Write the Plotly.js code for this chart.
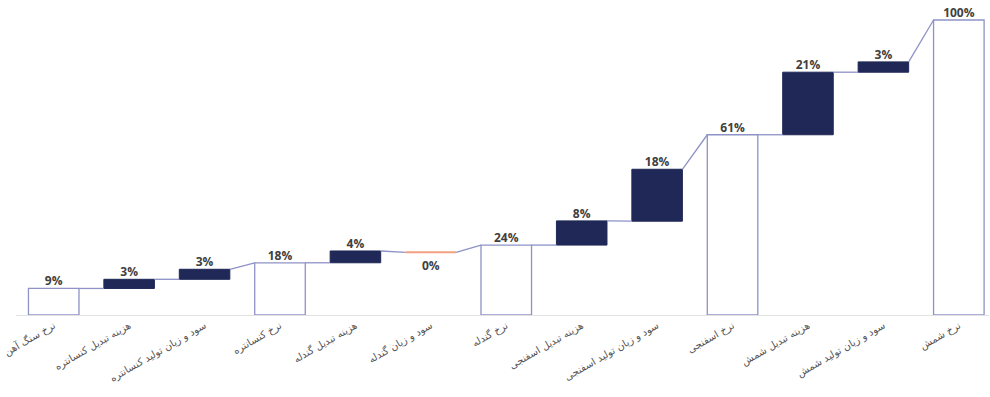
<!DOCTYPE html>
<html>
<head>
<meta charset="utf-8">
<script src="https://cdn.plot.ly/plotly-3.0.1.min.js"></script>
<style>html,body{margin:0;padding:0;background:#fff;}#chart{width:990px;height:397px;}</style>
</head>
<body>
<div id="chart"></div>
<script>
// Categories (Persian labels)
var categories = [
  "نرخ سنگ آهن",
  "هزینه تبدیل کنسانتره",
  "سود و زیان تولید کنسانتره",
  "نرخ کنسانتره",
  "هزینه تبدیل گندله",
  "سود و زیان گندله",
  "نرخ گندله",
  "هزینه تبدیل اسفنجی",
  "سود و زیان تولید اسفنجی",
  "نرخ اسفنجی",
  "هزینه تبدیل شمش",
  "سود و زیان تولید شمش",
  "نرخ شمش"
];
// Bar type: total (from zero) or relative (floating step)
var measures = ["total","relative","relative","total","relative","relative","total","relative","relative","total","relative","relative","total"];
// Displayed percentage labels
var pctLabels = [9, 3, 3, 18, 4, 0, 24, 8, 18, 61, 21, 3, 100];
// Bar bottom and top levels (% of final price)
var barBottoms = [0, 9.0, 12.1, 0, 17.7, 21.25, 0, 23.7, 31.8, 0, 61.1, 82.3, 0];
var barTops    = [9.0, 12.1, 15.5, 17.7, 21.7, 21.25, 23.7, 31.9, 49.4, 61.1, 82.3, 85.8, 100];

var W = 0.67;
var navy = "#1f2856";
var outline = "#8e92c6";
var orange = "#f4a080";
var labelFont = {family: "Open Sans", size: 12, color: "#404040", weight: "bold"};

var idx = categories.map(function(_, i){ return i; });

var totalX = [], totalBase = [], totalVal = [];
var relX = [], relBase = [], relVal = [];
var zeroX = [], zeroY = [];
var txtX = [], txtY = [], txtS = [];
var annotations = [];
idx.forEach(function(i){
  var h = barTops[i] - barBottoms[i];
  if (measures[i] === "total") { totalX.push(i); totalBase.push(barBottoms[i]); totalVal.push(h); }
  else if (h > 0) { relX.push(i); relBase.push(barBottoms[i]); relVal.push(h); }
  else { zeroX.push(i - W/2, i + W/2, null); zeroY.push(barTops[i], barTops[i], null); }
  if (pctLabels[i] === 0) {
    annotations.push({x: i, y: barTops[i], xref: "x", yref: "y", text: pctLabels[i] + "%",
      showarrow: false, yanchor: "top", yshift: -3, font: labelFont});
  } else {
    txtX.push(i); txtY.push(barTops[i]); txtS.push(pctLabels[i] + "%");
  }
});

// connectors: end level of bar i -> start level of bar i+1
var connX = [], connY = [];
for (var i = 0; i < categories.length - 1; i++) {
  var startNext = measures[i+1] === "total" ? barTops[i+1] : barBottoms[i+1];
  connX.push(i + W/2, i + 1 - W/2, null);
  connY.push(barTops[i], startNext, null);
}

var traces = [
  { type: "scatter", mode: "lines", x: connX, y: connY, line: {color: outline, width: 1.3}, hoverinfo: "skip", showlegend: false },
  { type: "bar", x: totalX, y: totalVal, base: totalBase, width: W,
    marker: {color: "#ffffff", line: {color: outline, width: 1.3}}, hoverinfo: "skip", showlegend: false },
  { type: "bar", x: relX, y: relVal, base: relBase, width: W,
    marker: {color: navy, line: {color: navy, width: 1}}, hoverinfo: "skip", showlegend: false },
  { type: "scatter", mode: "lines", x: zeroX, y: zeroY, line: {color: orange, width: 2}, hoverinfo: "skip", showlegend: false },
  { type: "scatter", mode: "text", x: txtX, y: txtY, text: txtS, textposition: "top center",
    textfont: labelFont, hoverinfo: "skip", showlegend: false, cliponaxis: false }
];

var layout = {
  width: 990, height: 397,
  margin: {l: 16, r: 1, t: 5, b: 82},
  paper_bgcolor: "#ffffff", plot_bgcolor: "#ffffff",
  barmode: "overlay",
  showlegend: false,
  annotations: annotations,
  xaxis: {
    range: [-0.5, 12.4], tickmode: "array", tickvals: idx, ticktext: categories,
    tickangle: -30, tickfont: {family: "DejaVu Sans", size: 10, color: "#555555"},
    showgrid: false, zeroline: false, showline: true, linecolor: "#e2e2e2", linewidth: 1,
    ticks: "", automargin: false, fixedrange: true
  },
  yaxis: {
    range: [0, 105.08], showgrid: false, zeroline: false, showticklabels: false,
    showline: false, ticks: "", fixedrange: true
  }
};

Plotly.newPlot("chart", traces, layout, {displayModeBar: false, staticPlot: true});
</script>
</body>
</html>
